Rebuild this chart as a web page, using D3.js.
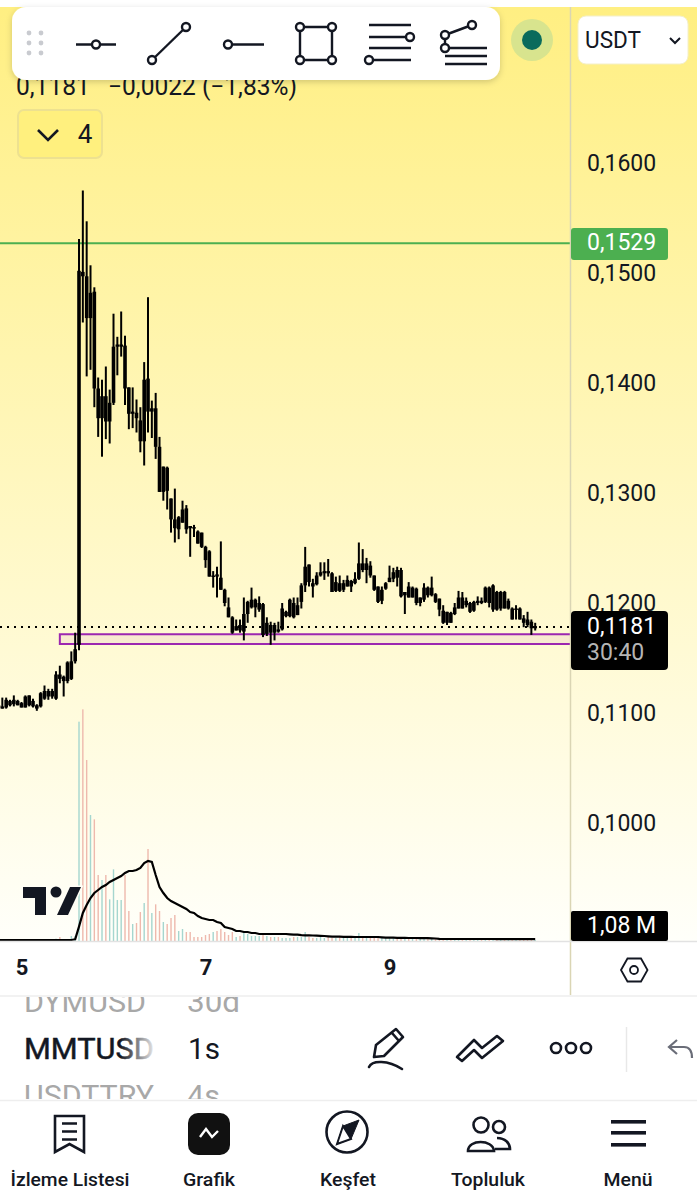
<!DOCTYPE html>
<html>
<head>
<meta charset="utf-8">
<script src="https://cdn.jsdelivr.net/npm/d3@7"></script>
<style>
  html, body { margin: 0; padding: 0; background: #fff; }
  svg { display: block; }
  text { font-family: Roboto, sans-serif; fill: #131722; }
</style>
</head>
<body>
<svg id="chart" width="697" height="1200"></svg>
<script>
// hourly candles, left to right
const opens = [0.1107,
  0.1108,0.1107,0.1113,0.1110,0.1113,0.1111,0.1107,0.1118,0.1113,0.1109,
  0.1108,0.1115,0.1122,0.1117,0.1115,0.1137,0.1131,0.1131,0.1133,0.1149,
  0.1164,0.1503,0.1499,0.1461,0.1485,0.1397,0.1370,0.1390,0.1367,0.1384,
  0.1435,0.1435,0.1436,0.1398,0.1374,0.1375,0.1368,0.1349,0.1406,0.1376,
  0.1379,0.1344,0.1303,0.1325,0.1297,0.1278,0.1269,0.1275,0.1288,0.1272,
  0.1271,0.1267,0.1266,0.1253,0.1249,0.1226,0.1228,0.1225,0.1214,0.1198,
  0.1189,0.1177,0.1182,0.1176,0.1192,0.1198,0.1198,0.1196,0.1201,0.1174,
  0.1182,0.1175,0.1178,0.1178,0.1190,0.1190,0.1202,0.1191,0.1203,0.1218,
  0.1237,0.1220,0.1219,0.1227,0.1229,0.1231,0.1229,0.1213,0.1220,0.1214,
  0.1217,0.1222,0.1220,0.1224,0.1238,0.1232,0.1236,0.1227,0.1217,0.1204,
  0.1215,0.1221,0.1224,0.1232,0.1232,0.1209,0.1217,0.1207,0.1215,0.1202,
  0.1205,0.1216,0.1209,0.1210,0.1206,0.1195,0.1184,0.1193,0.1192,0.1197,
  0.1207,0.1200,0.1202,0.1195,0.1202,0.1204,0.1203,0.1216,0.1196,0.1212,
  0.1197,0.1212,0.1197,0.1197,0.1196,0.1197,0.1188,0.1187,0.1185,0.1179];
const closes = [0.1109,
  0.1106,0.1114,0.1109,0.1114,0.1109,0.1107,0.1117,0.1109,0.1108,0.1106,
  0.1120,0.1122,0.1117,0.1122,0.1137,0.1133,0.1135,0.1148,0.1149,0.1160,
  0.1504,0.1499,0.1461,0.1484,0.1397,0.1370,0.1390,0.1367,0.1384,0.1435,
  0.1437,0.1437,0.1397,0.1374,0.1376,0.1370,0.1349,0.1405,0.1376,0.1379,
  0.1344,0.1303,0.1326,0.1304,0.1278,0.1270,0.1280,0.1287,0.1269,0.1270,
  0.1270,0.1256,0.1253,0.1241,0.1226,0.1227,0.1226,0.1214,0.1202,0.1189,
  0.1175,0.1181,0.1177,0.1192,0.1203,0.1205,0.1205,0.1202,0.1173,0.1184,
  0.1175,0.1182,0.1176,0.1197,0.1194,0.1205,0.1189,0.1200,0.1218,0.1235,
  0.1221,0.1217,0.1227,0.1230,0.1231,0.1229,0.1212,0.1221,0.1213,0.1220,
  0.1223,0.1217,0.1224,0.1238,0.1232,0.1238,0.1227,0.1214,0.1203,0.1214,
  0.1220,0.1225,0.1230,0.1225,0.1208,0.1212,0.1207,0.1216,0.1202,0.1207,
  0.1216,0.1209,0.1216,0.1203,0.1196,0.1184,0.1194,0.1184,0.1198,0.1207,
  0.1197,0.1204,0.1194,0.1203,0.1204,0.1202,0.1216,0.1202,0.1218,0.1196,
  0.1212,0.1197,0.1204,0.1187,0.1197,0.1187,0.1184,0.1182,0.1179,0.1181];
const highs = [0.1115,
  0.1116,0.1116,0.1114,0.1118,0.1114,0.1112,0.1118,0.1118,0.1115,0.1110,
  0.1121,0.1127,0.1124,0.1124,0.1140,0.1145,0.1136,0.1149,0.1158,0.1175,
  0.1533,0.1577,0.1549,0.1509,0.1489,0.1407,0.1405,0.1417,0.1396,0.1465,
  0.1444,0.1467,0.1445,0.1398,0.1398,0.1387,0.1380,0.1421,0.1480,0.1386,
  0.1393,0.1353,0.1326,0.1326,0.1297,0.1306,0.1281,0.1295,0.1291,0.1272,
  0.1273,0.1268,0.1266,0.1254,0.1250,0.1231,0.1235,0.1258,0.1215,0.1207,
  0.1190,0.1187,0.1187,0.1207,0.1204,0.1216,0.1206,0.1208,0.1202,0.1189,
  0.1185,0.1184,0.1185,0.1202,0.1195,0.1206,0.1207,0.1207,0.1220,0.1253,
  0.1237,0.1224,0.1230,0.1239,0.1239,0.1242,0.1230,0.1226,0.1227,0.1223,
  0.1227,0.1223,0.1230,0.1257,0.1251,0.1243,0.1240,0.1227,0.1217,0.1217,
  0.1221,0.1236,0.1234,0.1235,0.1234,0.1212,0.1221,0.1217,0.1216,0.1207,
  0.1220,0.1217,0.1226,0.1211,0.1206,0.1200,0.1194,0.1194,0.1202,0.1213,
  0.1212,0.1207,0.1203,0.1204,0.1208,0.1207,0.1217,0.1217,0.1219,0.1213,
  0.1213,0.1213,0.1206,0.1198,0.1200,0.1198,0.1191,0.1194,0.1187,0.1184];
const lows = [0.1105,
  0.1106,0.1106,0.1108,0.1108,0.1109,0.1107,0.1107,0.1108,0.1107,0.1104,
  0.1107,0.1114,0.1114,0.1115,0.1114,0.1129,0.1117,0.1129,0.1132,0.1147,
  0.1159,0.1457,0.1408,0.1414,0.1380,0.1353,0.1335,0.1351,0.1347,0.1382,
  0.1409,0.1426,0.1382,0.1360,0.1361,0.1357,0.1339,0.1327,0.1357,0.1352,
  0.1333,0.1303,0.1295,0.1287,0.1266,0.1257,0.1260,0.1275,0.1265,0.1244,
  0.1262,0.1256,0.1252,0.1234,0.1226,0.1216,0.1207,0.1214,0.1199,0.1189,
  0.1174,0.1177,0.1175,0.1168,0.1184,0.1197,0.1189,0.1194,0.1171,0.1172,
  0.1164,0.1168,0.1175,0.1177,0.1189,0.1189,0.1188,0.1191,0.1197,0.1212,
  0.1217,0.1207,0.1218,0.1226,0.1223,0.1226,0.1212,0.1212,0.1212,0.1212,
  0.1217,0.1212,0.1219,0.1223,0.1230,0.1220,0.1225,0.1213,0.1202,0.1201,
  0.1214,0.1221,0.1221,0.1217,0.1207,0.1192,0.1207,0.1207,0.1200,0.1199,
  0.1203,0.1207,0.1208,0.1202,0.1190,0.1183,0.1182,0.1184,0.1191,0.1197,
  0.1197,0.1198,0.1193,0.1194,0.1200,0.1201,0.1202,0.1198,0.1194,0.1195,
  0.1195,0.1197,0.1196,0.1187,0.1187,0.1187,0.1180,0.1180,0.1173,0.1177];

// volume in millions, and its moving average
const volumes = [0.8,
  0.8,0.8,0.8,0.8,0.8,0.8,0.8,0.8,0.8,0.8,
  1,1,1,1,1.4,2.4,1,1.2,3,3,
  131.6,139,108.6,75.6,73,39.6,36.6,39.6,25,43,
  24.6,24.6,39.6,18,10.2,10.8,17.4,22.8,55.2,16.8,
  22,18,11.4,10.2,13.8,15.6,6,7.2,5.4,5.4,
  2.4,2.4,2.4,3.6,4.2,5.4,6,7.2,5.4,3.6,
  5.4,2.4,3,4.8,4.2,3,3,3,4.2,3,
  2.4,2.4,2.4,1.8,1.8,1.8,2.4,2.4,2.4,5.4,
  2.4,1.8,1.8,2.4,1.8,2.4,1.8,1.8,2.4,1.8,
  1.8,1.8,1.8,4.8,1.8,1.8,2.4,1.8,1.8,2.4,
  1.8,1.8,1.8,2.4,1.8,1.8,1.8,1.8,1.8,2.4,
  1.8,1.8,1.8,1.2,1.8,1.8,1.8,1.8,1.2,1.8,
  1.2,1.8,1.2,1.2,1.8,1.2,1.8,1.2,1.8,1.8,
  1.8,1.2,1.8,1.2,1.2,1.8,1.8,1.2,1.8,0.6];
const volumeAverage = [0.6,
  0.6,0.6,0.6,0.6,0.6,0.6,0.6,0.6,0.6,0.6,
  0.6,0.6,0.6,0.6,0.6,0.6,0.6,0.6,0.6,1,
  8.6,16.8,21.6,25.8,28.8,30.6,32.4,33.6,35.4,36.6,
  37.8,39,40.8,42,42,42.6,43.8,46.8,48,47.4,
  39.6,32.4,28.8,25.8,24,22.8,21.6,20.4,19.2,17.4,
  16.8,15,13.8,13.2,12.6,12.6,11.4,10.8,8.4,7.8,
  7.2,6,6,5.4,5.4,4.8,4.8,4.2,4.2,4.2,
  4.2,4.2,4.2,4.2,4.2,4,3.8,3.8,3.5,3.4,
  3.4,3.3,3.2,3.1,3,2.8,2.6,2.6,2.6,2.5,
  2.5,2.5,2.4,2.4,2.4,2.4,2.4,2.4,2.4,2.2,
  2,2,2,1.9,1.9,1.9,1.8,1.8,1.8,1.7,
  1.7,1.7,1.6,1.5,1.3,1.2,1.2,1.2,1.2,1.2,
  1.2,1.2,1.2,1.2,1.2,1.2,1.2,1.2,1.2,1.1,
  1.1,1.1,1.1,1.1,1.1,1.1,1.1,1.1,1.08,1.08];

const priceTicks = [0.16, 0.15, 0.14, 0.13, 0.12, 0.11, 0.10];
const dayTicks = [6, 54, 102];
const dayLabels = ['5', '7', '9'];
const lastPrice = 0.1181;
const linePrice = 0.1529;
const zoneTop = 0.11735, zoneBottom = 0.11647, zoneStart = 16;
const navLabels = ['İzleme Listesi', 'Grafik', 'Keşfet', 'Topluluk', 'Menü'];

const svg = d3.select('#chart');
const defs = svg.append('defs');

const bg = defs.append('linearGradient').attr('id', 'bg').attr('x1', 0).attr('x2', 0).attr('y1', 0).attr('y2', 1);
bg.append('stop').attr('offset', 0).attr('stop-color', '#FFEF82');
bg.append('stop').attr('offset', 1).attr('stop-color', '#FFFFFA');

const fadeRight = defs.append('linearGradient').attr('id', 'fadeRight');
fadeRight.append('stop').attr('offset', 0).attr('stop-color', '#fff').attr('stop-opacity', 0);
fadeRight.append('stop').attr('offset', 1).attr('stop-color', '#fff').attr('stop-opacity', 0.95);

const shadow = defs.append('filter').attr('id', 'shadow').attr('x', '-5%').attr('y', '-20%').attr('width', '110%').attr('height', '150%');
shadow.append('feDropShadow').attr('dx', 0).attr('dy', 2).attr('stdDeviation', 3).attr('flood-color', '#000').attr('flood-opacity', 0.18);

defs.append('clipPath').attr('id', 'symbols').append('rect').attr('x', 0).attr('y', 997).attr('width', 697).attr('height', 102);

const n = closes.length;
const x = d3.scaleLinear().domain([0, n - 1]).range([-1.5, 535.2]);
const y = d3.scaleLinear().domain([0.16, 0.10]).range([165.2, 825.2]);
const v = d3.scaleLinear().domain([0, 180]).range([941, 641]);
const idx = d3.range(n);

// small helper so squeezed phone text keeps its width
function label(parent, str, px, py, size, opts = {}) {
  const t = parent.append('text').attr('x', px).attr('y', py)
    .attr('font-size', size).attr('font-weight', opts.weight || 400)
    .attr('text-anchor', opts.anchor || 'start').style('fill', opts.fill || '#131722').text(str);
  if (opts.width) t.attr('textLength', opts.width).attr('lengthAdjust', 'spacingAndGlyphs');
  return t;
}

// chart background
svg.append('rect').attr('x', 0).attr('y', 7).attr('width', 697).attr('height', 934).attr('fill', 'url(#bg)');

// volume
svg.append('g').selectAll('rect').data(idx).join('rect')
  .attr('x', (i) => x(i) - 0.7)
  .attr('width', 1.4)
  .attr('y', (i) => v(volumes[i]))
  .attr('height', (i) => v(0) - v(volumes[i]))
  .attr('fill', (i) => (closes[i] >= opens[i] ? '#a5d6cf' : '#eeb9ad'));

// TradingView mark, with its pale halo over the volume bars
const logo = svg.append('g').attr('fill', '#131722').attr('stroke', '#fffef6').attr('stroke-width', 3).style('paint-order', 'stroke');
logo.append('path').attr('d', 'M23 887H46V915H35V898H23Z');
logo.append('circle').attr('cx', 56).attr('cy', 892).attr('r', 5.5);
logo.append('path').attr('d', 'M70 887H81L68 915H57Z');

// volume average
svg.append('path').datum(idx)
  .attr('fill', 'none').attr('stroke', '#000').attr('stroke-width', 2.2)
  .attr('d', d3.line().x((i) => x(i)).y((i) => v(volumeAverage[i])));

// horizontal lines and the zone
svg.append('line').attr('x1', 0).attr('x2', 570).attr('y1', y(linePrice)).attr('y2', y(linePrice))
  .attr('stroke', '#4CAF50').attr('stroke-width', 2);
svg.append('line').attr('x1', 0).attr('x2', 570).attr('y1', y(lastPrice) + 1).attr('y2', y(lastPrice) + 1)
  .attr('stroke', '#000').attr('stroke-width', 2).attr('stroke-dasharray', '2 5');
svg.append('path')
  .attr('d', `M570 ${y(zoneTop)}H${x(zoneStart)}V${y(zoneBottom)}H570`)
  .attr('fill', 'rgba(156,39,176,0.07)').attr('stroke', '#9C27B0').attr('stroke-width', 2);

// candles, all black in this theme
const candles = svg.append('g').attr('class', 'candles');
candles.selectAll('line').data(idx).join('line')
  .attr('x1', (i) => x(i)).attr('x2', (i) => x(i))
  .attr('y1', (i) => y(highs[i])).attr('y2', (i) => y(lows[i]))
  .attr('stroke', '#000').attr('stroke-width', 2);
candles.selectAll('rect').data(idx).join('rect')
  .attr('x', (i) => x(i) - 1.8).attr('width', 3.6)
  .attr('y', (i) => y(Math.max(opens[i], closes[i])))
  .attr('height', (i) => Math.max(1.5, Math.abs(y(opens[i]) - y(closes[i]))))
  .attr('fill', '#000');

// header values, partly under the toolbar
label(svg, '0,1181\u00A0\u00A0\u00A0−0,0022 (−1,83%)', 16, 95, 25, { width: 281 });
svg.append('rect').attr('x', 18).attr('y', 110).attr('width', 84).attr('height', 48).attr('rx', 6)
  .attr('fill', '#FFF07E').attr('stroke', '#EDE190').attr('stroke-width', 2);
svg.append('path').attr('d', 'M38 130L48 140L58 130').attr('fill', 'none').attr('stroke', '#131722').attr('stroke-width', 2.6);
label(svg, '4', 85, 143, 26, { anchor: 'middle' });

// axes
svg.append('line').attr('x1', 570.5).attr('x2', 570.5).attr('y1', 7).attr('y2', 995).attr('stroke', '#DAD5B4').attr('stroke-width', 1.5);
svg.append('line').attr('x1', 0).attr('x2', 697).attr('y1', 941.5).attr('y2', 941.5).attr('stroke', '#E2E2E2').attr('stroke-width', 1.5);
svg.append('line').attr('x1', 0).attr('x2', 697).attr('y1', 996).attr('y2', 996).attr('stroke', '#EEE').attr('stroke-width', 1.5);

const comma = d3.formatLocale({ decimal: ',', thousands: '.', grouping: [3], currency: ['', ''] }).format('.4f');
const priceAxis = svg.append('g').attr('transform', 'translate(570,0)')
  .call(d3.axisRight(y).tickValues(priceTicks).tickFormat(comma).tickSize(0).tickPadding(17));
priceAxis.select('.domain').remove();
priceAxis.selectAll('text').attr('font-size', 23).attr('dy', '0.22em').style('font-family', 'Roboto, sans-serif').style('fill', '#131722');

const dayAxis = svg.append('g').attr('transform', 'translate(0,941)')
  .call(d3.axisBottom(x).tickValues(dayTicks).tickFormat((d, i) => dayLabels[i]).tickSize(0).tickPadding(18));
dayAxis.select('.domain').remove();
dayAxis.selectAll('text').attr('font-size', 22).attr('font-weight', 700).style('font-family', 'Roboto, sans-serif').style('fill', '#131722');

// price tags on the scale
svg.append('rect').attr('x', 571).attr('y', 228).attr('width', 97).attr('height', 32).attr('rx', 3).attr('fill', '#4CAF50');
label(svg, '0,1529', 587, 250, 23, { fill: '#fff' });
svg.append('rect').attr('x', 571).attr('y', 611).attr('width', 97).attr('height', 59).attr('rx', 4).attr('fill', '#000');
label(svg, '0,1181', 587, 634, 23, { fill: '#fff' });
label(svg, '30:40', 587, 660, 23, { fill: '#B5B5B5' });
svg.append('rect').attr('x', 571).attr('y', 911).attr('width', 97).attr('height', 30).attr('rx', 2).attr('fill', '#000');
label(svg, '1,08 M', 587, 933, 23, { fill: '#fff' });

// hexagon settings icon
svg.append('path').attr('d', 'M621 970L627.5 958.5H641L647.5 970L641 981.5H627.5Z').attr('fill', 'none').attr('stroke', '#131722').attr('stroke-width', 1.8);
svg.append('circle').attr('cx', 634).attr('cy', 970).attr('r', 4).attr('fill', 'none').attr('stroke', '#131722').attr('stroke-width', 1.8);

// drawing toolbar
svg.append('rect').attr('x', 12).attr('y', 7).attr('width', 488).attr('height', 73).attr('rx', 14).attr('fill', '#fff').attr('filter', 'url(#shadow)');
[29, 41].forEach((dx) => [33, 43, 53].forEach((dy) => {
  svg.append('circle').attr('cx', dx).attr('cy', dy).attr('r', 2.4).attr('fill', '#C9CBD0');
}));
const tools = svg.append('g').attr('fill', 'none').attr('stroke', '#131722').attr('stroke-width', 2.4);
const toolPaths = [
  'M76 44.5H116', 'M152 60L186 27', 'M228 44.5H264', 'M300 27H332V60H300Z',
  'M369 25H411M369 37H410M369 48H411M369 60H411', 'M445 35L472 25M445 35V48M445 48H487M445 56H487M445 64H487'
];
toolPaths.forEach((d) => tools.append('path').attr('d', d));
const toolDots = [[96, 44.5], [152, 60], [186, 27], [228, 44.5], [300, 27], [332, 27], [300, 60], [332, 60], [410, 37], [369, 60], [445, 35], [472, 25], [445, 48]];
tools.selectAll('circle').data(toolDots).join('circle')
  .attr('cx', (d) => d[0]).attr('cy', (d) => d[1]).attr('r', 4).attr('fill', '#fff');

// status dot and currency button
svg.append('circle').attr('cx', 532).attr('cy', 40).attr('r', 21).attr('fill', '#D8E48E');
svg.append('circle').attr('cx', 532).attr('cy', 40).attr('r', 10).attr('fill', '#0A6B5C');
svg.append('rect').attr('x', 578).attr('y', 16).attr('width', 110).attr('height', 48).attr('rx', 8).attr('fill', '#fff').attr('stroke', '#F4EFC8');
label(svg, 'USDT', 585, 48, 24, { width: 56 });
svg.append('path').attr('d', 'M670 38L675 43L680 38').attr('fill', 'none').attr('stroke', '#131722').attr('stroke-width', 2);

// symbol wheel
const wheel = svg.append('g').attr('clip-path', 'url(#symbols)');
label(wheel, 'DYMUSD', 24, 1012, 29, { width: 122, fill: '#A8A8A8' });
label(wheel, '30d', 187, 1012, 29, { width: 53, fill: '#A8A8A8' });
label(wheel, 'USDTTRY', 24, 1106, 29, { width: 130, fill: '#A8A8A8' });
label(wheel, '4s', 187, 1106, 29, { width: 33, fill: '#A8A8A8' });
label(svg, 'MMTUSD', 24, 1059, 30, { width: 130 }).style('stroke', '#131722').style('stroke-width', 0.5);
label(svg, '1s', 188, 1059, 30, { width: 32 });
svg.append('rect').attr('x', 120).attr('y', 1034).attr('width', 36).attr('height', 30).attr('fill', 'url(#fadeRight)');
svg.append('line').attr('x1', 0).attr('x2', 697).attr('y1', 1100.5).attr('y2', 1100.5).attr('stroke', '#EEE').attr('stroke-width', 1.5);

// bottom tool icons
const bar = svg.append('g').attr('fill', 'none').attr('stroke', '#131722').attr('stroke-width', 2.6).attr('stroke-linejoin', 'round').attr('stroke-linecap', 'round');
bar.append('path').attr('d', 'M374 1057L376 1045L396 1029L403 1037L384 1056Z M392 1033L399 1041');
bar.append('path').attr('d', 'M369 1067C372 1060 388 1060 402 1069');
bar.append('path').attr('d', 'M457 1057L474 1040L482 1048L497 1036L503 1041L482 1058L474 1050L462 1061Z');
[556, 571, 586].forEach((cx) => bar.append('circle').attr('cx', cx).attr('cy', 1048).attr('r', 5));
svg.append('line').attr('x1', 626.5).attr('x2', 626.5).attr('y1', 1027).attr('y2', 1072).attr('stroke', '#E8E8E8').attr('stroke-width', 1.5);
svg.append('path').attr('d', 'M677 1040L669 1047L677 1054M669 1047H684C690 1047 692 1052 692 1058').attr('fill', 'none').attr('stroke', '#6A6D78').attr('stroke-width', 2.2);

// navigation icons
const nav = svg.append('g').attr('fill', 'none').attr('stroke', '#131722').attr('stroke-width', 2.6);
nav.append('path').attr('d', 'M55 1116H84V1152L69.5 1144L55 1152Z M62 1123.5H77M62 1131.5H77M62 1139.5H77');
svg.append('rect').attr('x', 188).attr('y', 1113).attr('width', 42).attr('height', 42).attr('rx', 10).attr('fill', '#111');
svg.append('path').attr('d', 'M200 1137L206 1129L212 1137L218 1131').attr('fill', 'none').attr('stroke', '#fff').attr('stroke-width', 2.4);
nav.append('circle').attr('cx', 347).attr('cy', 1132).attr('r', 20.5);
nav.append('path').attr('d', 'M359 1120L351 1139L337 1144L343 1126Z').attr('fill', '#131722').attr('stroke-width', 1);
svg.append('path').attr('d', 'M343 1126L351 1139L337 1144Z').attr('fill', '#fff').attr('stroke', '#131722').attr('stroke-width', 2);
nav.append('circle').attr('cx', 481).attr('cy', 1125).attr('r', 7.5);
nav.append('circle').attr('cx', 499).attr('cy', 1127).attr('r', 6);
nav.append('path').attr('d', 'M468 1151C468 1139 493 1139 494 1151Z M497 1138C505 1138 510 1143 510 1149H495');
svg.append('g').selectAll('rect').data([1122, 1133, 1145]).join('rect')
  .attr('x', 611).attr('y', (d) => d - 2).attr('width', 35).attr('height', 3.6).attr('fill', '#131722');

const navX = [70, 209, 348, 488, 628];
const navW = [119, 52, 56, 74, 49];
navLabels.forEach((s, i) => {
  label(svg, s, navX[i] - navW[i] / 2, 1186, 19, { width: navW[i], weight: 500 });
});
</script>
</body>
</html>
